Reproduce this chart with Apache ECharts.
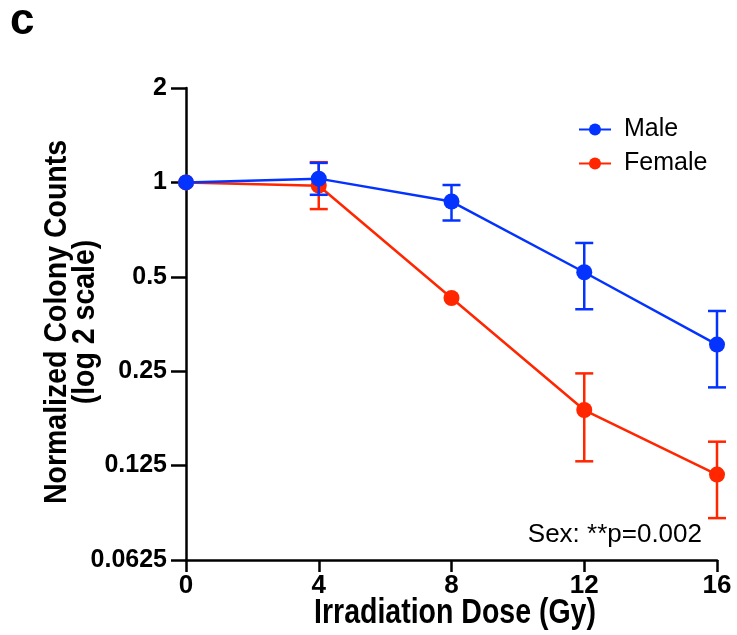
<!DOCTYPE html>
<html>
<head>
<meta charset="utf-8">
<script src="https://cdn.jsdelivr.net/npm/echarts@6/dist/echarts.min.js"></script>
<style>
  html, body { margin: 0; padding: 0; background: #fff; }
  #chart { width: 737px; height: 635px; }
</style>
</head>
<body>
<div id="chart"></div>
<script>
// irradiation dose (Gy)
const doses = [0, 4, 8, 12, 16]
const yTicks = [0.0625, 0.125, 0.25, 0.5, 1, 2]

// normalized colony counts, mean and error bar ends
const maleMean = [1, 1.028, 0.869, 0.517, 0.304]
const maleLow = [1, 0.913, 0.756, 0.394, 0.222]
const maleHigh = [1, 1.154, 0.981, 0.641, 0.389]

const femaleMean = [1, 0.976, 0.428, 0.188, 0.117]
const femaleLow = [1, 0.822, 0.428, 0.129, 0.085]
const femaleHigh = [1, 1.16, 0.428, 0.246, 0.149]

const BLUE = '#0433ff'
const RED = '#ff2600'
const FONT = 'Liberation Sans, Arial, sans-serif'

let chart = echarts.init(document.querySelector('#chart'), null, {renderer: 'canvas'})

function pairs(ys) {
    return doses.map((d, i) => [d, ys[i]])
}

function errData(low, high) {
    return doses.map((d, i) => [d, low[i], high[i]])
}

function errorBars(color) {
    return function (params, api) {
        let x = api.value(0)
        let lo = api.value(1)
        let hi = api.value(2)
        if (lo === hi) return null
        let pLo = api.coord([x, lo])
        let pHi = api.coord([x, hi])
        let half = 9
        let style = {stroke: color, lineWidth: 2.5}
        return {
            type: 'group',
            children: [
                {type: 'line', shape: {x1: pHi[0], y1: pHi[1], x2: pLo[0], y2: pLo[1]}, style: style},
                {type: 'line', shape: {x1: pHi[0] - half, y1: pHi[1], x2: pHi[0] + half, y2: pHi[1]}, style: style},
                {type: 'line', shape: {x1: pLo[0] - half, y1: pLo[1], x2: pLo[0] + half, y2: pLo[1]}, style: style}
            ]
        }
    }
}

// axis titles use a condensed look: bold text stretched across its baseline
function titleText(text, x, y, rotation, stretch) {
    return {
        type: 'text',
        x: x,
        y: y,
        rotation: rotation,
        scaleY: stretch,
        silent: true,
        style: {
            text: text,
            font: 'bold 28.5px ' + FONT,
            fill: '#000',
            align: 'center',
            verticalAlign: 'middle'
        }
    }
}

chart.setOption({
    animation: false,
    grid: {left: 186, right: 20, top: 88, bottom: 75, outerBoundsMode: 'none', containLabel: false},
    legend: {
        data: ['Male', 'Female'],
        orient: 'vertical',
        left: 573,
        top: 112,
        itemWidth: 32,
        itemHeight: 15,
        itemGap: 9,
        textStyle: {fontFamily: FONT, fontSize: 25, color: '#000', padding: [0, 0, 0, 8]}
    },
    xAxis: {
        type: 'value',
        min: 0,
        max: 16,
        interval: 4,
        axisLine: {lineStyle: {color: '#000', width: 2.5}},
        axisTick: {length: 12, lineStyle: {color: '#000', width: 2.5}},
        axisLabel: {fontFamily: FONT, fontSize: 26, fontWeight: 'bold', color: '#000', margin: 13},
        splitLine: {show: false}
    },
    yAxis: {
        type: 'log',
        logBase: 2,
        min: yTicks[0],
        max: yTicks[yTicks.length - 1],
        splitNumber: yTicks.length - 1,
        axisLine: {lineStyle: {color: '#000', width: 2.5}},
        axisTick: {length: 15, lineStyle: {color: '#000', width: 2.5}},
        axisLabel: {
            fontFamily: FONT, fontSize: 25, fontWeight: 'bold', color: '#000', margin: 19,
            formatter: v => String(+(+v).toPrecision(4))
        },
        splitLine: {show: false}
    },
    graphic: [
        {type: 'text', left: 10, top: 0, style: {text: 'c', font: 'bold 44px ' + FONT, fill: '#000'}},
        {type: 'text', right: 35, top: 522, style: {text: 'Sex: **p=0.002', font: '26px ' + FONT, fill: '#000'}},
        titleText('Irradiation Dose (Gy)', 455, 614, 0, 1.2),
        titleText('Normalized Colony Counts', 57, 322, Math.PI / 2, 1.12),
        titleText('(log 2 scale)', 85, 322, Math.PI / 2, 1.12)
    ],
    series: [
        {
            type: 'custom',
            name: 'Female err',
            renderItem: errorBars(RED),
            data: errData(femaleLow, femaleHigh),
            z: 2,
            silent: true
        },
        {
            type: 'line',
            name: 'Female',
            data: pairs(femaleMean),
            color: RED,
            symbol: 'circle',
            symbolSize: 16,
            lineStyle: {width: 2.5},
            z: 3
        },
        {
            type: 'custom',
            name: 'Male err',
            renderItem: errorBars(BLUE),
            data: errData(maleLow, maleHigh),
            z: 4,
            silent: true
        },
        {
            type: 'line',
            name: 'Male',
            data: pairs(maleMean),
            color: BLUE,
            symbol: 'circle',
            symbolSize: 16,
            lineStyle: {width: 2.5},
            z: 5
        }
    ]
})
</script>
</body>
</html>
